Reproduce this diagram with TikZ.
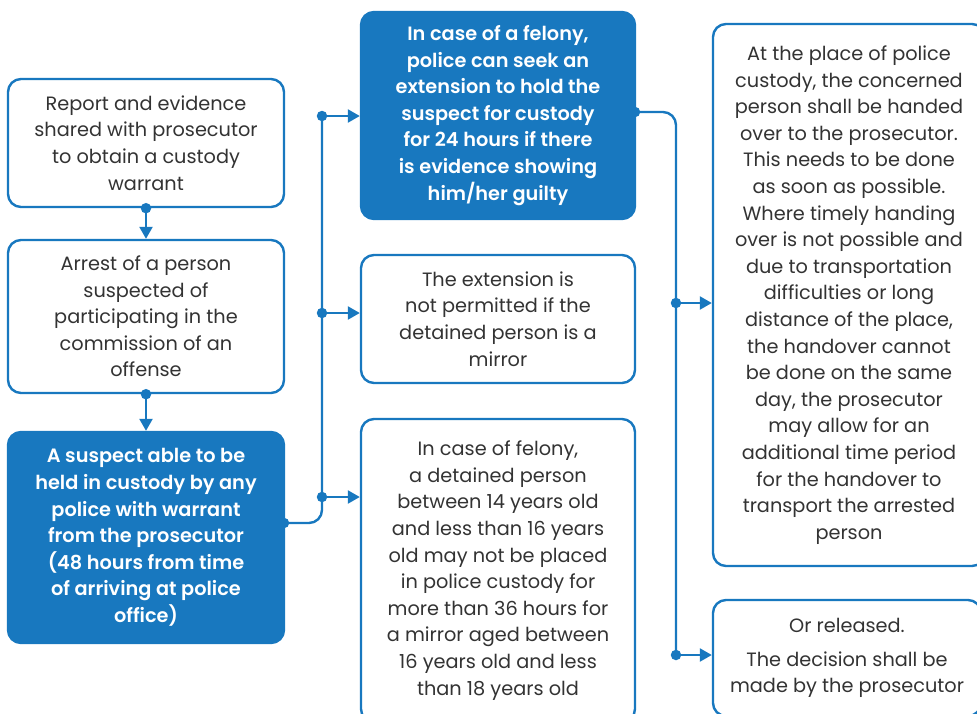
\documentclass[tikz,border=0pt]{standalone}
\usepackage{fontspec}
\setmainfont{Poppins}[BoldFont={Poppins SemiBold}]
\usetikzlibrary{arrows.meta}
\definecolor{flowblue}{HTML}{1878BF}
\definecolor{bodytext}{HTML}{333333}
\tikzset{
  card/.style={draw=flowblue, line width=2.4pt, rounded corners=13pt, fill=white,
    text=bodytext, align=center, inner sep=0pt,
    font=\fontsize{19.3}{26.6}\selectfont},
  keycard/.style={card, fill=flowblue, text=white,
    font=\fontsize{19.3}{26.6}\selectfont\bfseries},
  link/.style={draw=flowblue, line width=2.4pt},
  arrowlink/.style={link, -{Triangle[length=12pt,width=13pt]}},
  joint/.style={circle, fill=flowblue, inner sep=0pt, minimum size=10.5pt}
}
\begin{document}
\begin{tikzpicture}[x=1pt, y=-1pt]
\path[use as bounding box, clip] (0,0) rectangle (977,713);

% left column
\node[card, minimum width=276pt, minimum height=128pt] (A) at (146,143)
  {Report and evidence\\shared with prosecutor\\to obtain a custody\\warrant};
\node[card, minimum width=276pt, minimum height=153pt] (B) at (146,316.5)
  {Arrest of a person\\suspected of\\participating in the\\commission of an\\offense};
\node[keycard, minimum width=276pt, minimum height=211pt] (C) at (146,537.5)
  {A suspect able to be\\held in custody by any\\police with warrant\\from the prosecutor\\(48 hours from time\\of arriving at police\\office)};

% middle column
\node[keycard, minimum width=274pt, minimum height=207pt] (D) at (498,115.5)
  {In case of a felony,\\police can seek an\\extension to hold the\\suspect for custody\\for 24 hours if there\\is evidence showing\\him/her guilty};
\node[card, minimum width=274pt, minimum height=128pt] (E) at (498,319)
  {The extension is\\not permitted if the\\detained person is a\\mirror};
\node[card, minimum width=274pt, minimum height=303pt] (F) at (498,570.5)
  {In case of felony,\\a detained person\\between 14 years old\\and less than 16 years\\old may not be placed\\in police custody for\\more than 36 hours for\\a mirror aged between\\16 years old and less\\than 18 years old};

% right column
\node[card, minimum width=272pt, minimum height=542pt] (G) at (849,295)
  {At the place of police\\custody, the concerned\\person shall be handed\\over to the prosecutor.\\This needs to be done\\as soon as possible.\\Where timely handing\\over is not possible and\\due to transportation\\difficulties or long\\distance of the place,\\the handover cannot\\be done on the same\\day, the prosecutor\\may allow for an\\additional time period\\for the handover to\\transport the arrested\\person};
\node[card, minimum width=268pt, minimum height=116pt] (H) at (847,658)
  {Or released.\\[7pt]The decision shall be\\made by the prosecutor};

% left column chain
\draw[arrowlink] (A.south) -- (B.north);
\node[joint] at (A.south) {};
\draw[arrowlink] (B.south) -- (C.north);
\node[joint] at (B.south) {};

% branch from the custody box to the middle column
\coordinate (cOut) at (284,523);
\coordinate (m1) at (322,116);
\coordinate (m2) at (322,313);
\coordinate (m3) at (322,497);
\draw[link, rounded corners=13pt] (cOut) -| (m1);
\draw[arrowlink] (m1) -- (D.west |- m1);
\draw[arrowlink] (m2) -- (E.west |- m2);
\draw[arrowlink] (m3) -- (F.west |- m3);
\foreach \p in {cOut, m1, m2, m3} \node[joint] at (\p) {};

% branch from the extension box to the right column
\coordinate (dOut) at (635,112);
\coordinate (r1) at (676,303);
\coordinate (r2) at (676,655);
\draw[link, rounded corners=13pt] (dOut) -| (r2);
\draw[arrowlink] (r1) -- (G.west |- r1);
\draw[arrowlink] (r2) -- (H.west |- r2);
\foreach \p in {dOut, r1, r2} \node[joint] at (\p) {};
\end{tikzpicture}
\end{document}
